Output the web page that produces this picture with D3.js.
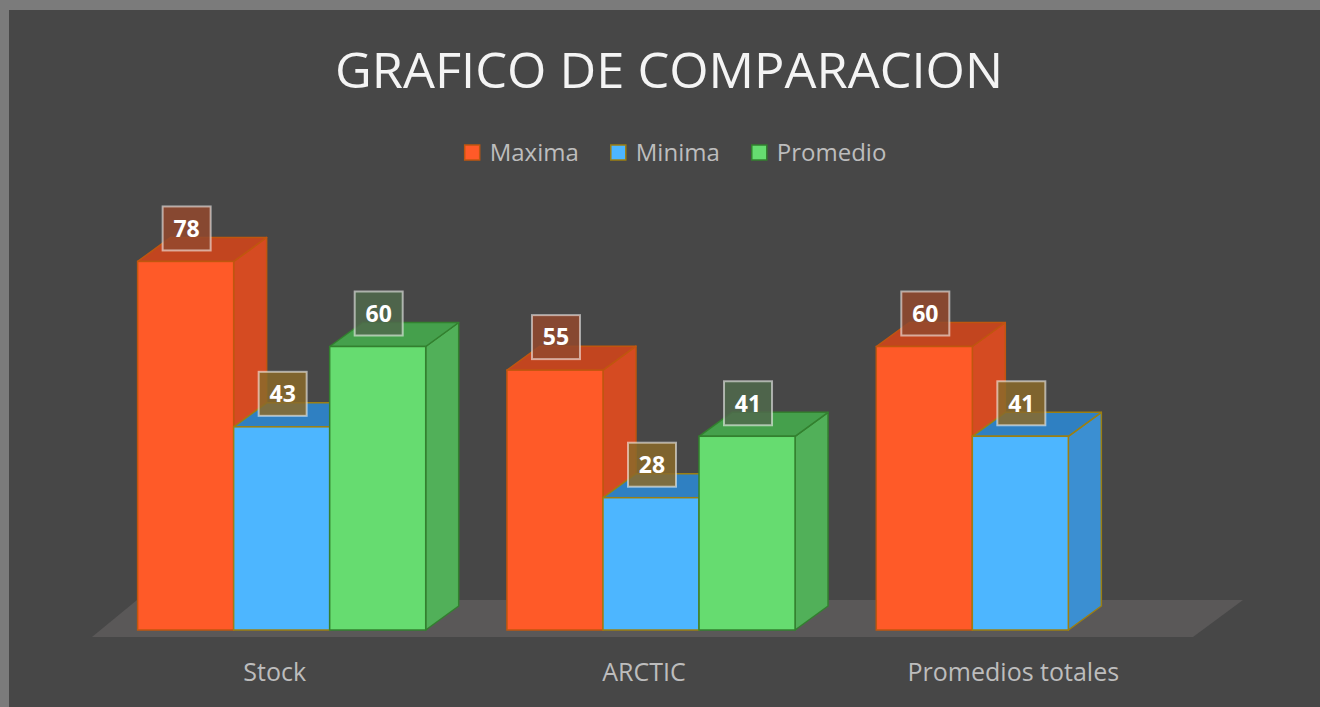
<!DOCTYPE html>
<html>
<head>
<meta charset="utf-8">
<script src="https://cdn.jsdelivr.net/npm/d3@7"></script>
<style>
  html, body { margin: 0; padding: 0; background: #7b7b7b; }
  svg { display: block; }
</style>
</head>
<body>
<svg id="chart"></svg>
<script>
const categories = ['Stock', 'ARCTIC', 'Promedios totales'];
const seriesNames = ['Maxima', 'Minima', 'Promedio'];
const maximaValues = [78, 55, 60];
const minimaValues = [43, 28, 41];
const promedioValues = [60, 41, null];
const yDomain = [0, 80];

const seriesValues = [maximaValues, minimaValues, promedioValues];

// face colours per series: front, side, top, outline, label box
const seriesStyle = [
  { front: '#ff5a28', side: '#d54b22', top: '#c2451f', line: '#c0560f', label: '#93492e' },
  { front: '#4db6ff', side: '#3b8fd2', top: '#2f80c2', line: '#9c7f12', label: '#8a6a2a' },
  { front: '#66dc70', side: '#51b059', top: '#45a04c', line: '#33802f', label: '#506a4c' }
];

const svgArea = { width: 1320, height: 707 };
const depth = { dx: 33, dy: 24 };

const svg = d3.select('#chart')
  .attr('width', svgArea.width)
  .attr('height', svgArea.height)
  .attr('viewBox', [0, 0, svgArea.width, svgArea.height]);

// outer frame + chart area
svg.append('rect')
  .attr('width', svgArea.width).attr('height', svgArea.height)
  .style('fill', '#7b7b7b');
svg.append('rect')
  .attr('x', 9).attr('y', 10)
  .attr('width', svgArea.width - 9).attr('height', svgArea.height - 10)
  .style('fill', '#474747');

const x0 = d3.scaleBand()
  .domain(categories)
  .range([97, 1205])
  .paddingInner(0.22)
  .paddingOuter(0.11);
const x1 = d3.scaleBand()
  .domain(seriesNames)
  .range([0, x0.bandwidth()]);
const y = d3.scaleLinear().domain(yDomain).range([630, 252]);

// floor
const fy0 = y(0);
const [rx0, rx1] = x0.range();
const floorPts = [
  [rx0 - 5, fy0 + 7],
  [rx0 + 40, fy0 - 30],
  [rx1 + 38, fy0 - 30],
  [rx1 - 12, fy0 + 7]
];
svg.append('path')
  .attr('d', d3.line()(floorPts) + 'Z')
  .style('fill', '#5a5858');

// title
svg.append('text')
  .attr('x', 669)
  .attr('y', 88)
  .style('text-anchor', 'middle')
  .style('font-family', '"Open Sans", sans-serif')
  .style('font-size', 50)
  .style('fill', '#f4f4f4')
  .attr('textLength', 668)
  .attr('lengthAdjust', 'spacingAndGlyphs')
  .text('GRAFICO DE COMPARACION');

// legend
const legend = svg.append('g').attr('class', 'legend');
const legendItems = legend.selectAll('g')
  .data(seriesNames)
  .enter().append('g');
legendItems.append('rect')
  .attr('width', 15).attr('height', 15)
  .attr('y', 145)
  .style('fill', (d, i) => seriesStyle[i].front)
  .style('stroke', (d, i) => seriesStyle[i].line)
  .style('stroke-width', 1.5);
legendItems.append('text')
  .attr('x', 25)
  .attr('y', 161)
  .style('font-family', '"Open Sans", sans-serif')
  .style('font-size', 24)
  .style('fill', '#bdbdbd')
  .text(d => d);
let lx = 0;
const legendGap = 32;
legendItems.each(function() {
  const w = this.getBBox().width;
  d3.select(this).attr('transform', `translate(${lx},0)`);
  lx += w + legendGap;
});
const legendW = lx - legendGap;
legend.attr('transform', `translate(${675.5 - legendW / 2},0)`);

// bars
const bars = [];
categories.forEach((c, ci) => {
  seriesNames.forEach((s, si) => {
    const v = seriesValues[si][ci];
    if (v === null || v === undefined) return;
    bars.push({ category: c, series: s, si, value: v });
  });
});

const barG = svg.append('g').attr('class', 'bars');
bars.forEach(d => {
  const st = seriesStyle[d.si];
  const xl = x0(d.category) + x1(d.series);
  const xr = xl + x1.bandwidth();
  const yt = y(d.value);
  const yb = y(0);
  const g = barG.append('g');
  // side face
  g.append('path')
    .attr('d', d3.line()([[xr, yt], [xr + depth.dx, yt - depth.dy], [xr + depth.dx, yb - depth.dy], [xr, yb]]) + 'Z')
    .style('fill', st.side)
    .style('stroke', st.line)
    .style('stroke-width', 1.5)
    .style('stroke-linejoin', 'round');
  // top face
  g.append('path')
    .attr('d', d3.line()([[xl, yt], [xl + depth.dx, yt - depth.dy], [xr + depth.dx, yt - depth.dy], [xr, yt]]) + 'Z')
    .style('fill', st.top)
    .style('stroke', st.line)
    .style('stroke-width', 1.5)
    .style('stroke-linejoin', 'round');
  // front face
  g.append('rect')
    .attr('x', xl)
    .attr('y', yt)
    .attr('width', xr - xl)
    .attr('height', yb - yt)
    .style('fill', st.front)
    .style('stroke', st.line)
    .style('stroke-width', 1.5);
});

// data labels
const labelG = svg.append('g').attr('class', 'labels');
bars.forEach(d => {
  const st = seriesStyle[d.si];
  const cx = x0(d.category) + x1(d.series) + x1.bandwidth() / 2 + 1;
  const cy = y(d.value) - 33;
  labelG.append('rect')
    .attr('x', cx - 24)
    .attr('y', cy - 22)
    .attr('width', 48)
    .attr('height', 44)
    .style('fill', st.label)
    .style('fill-opacity', 0.85)
    .style('stroke', '#ffffff')
    .style('stroke-opacity', 0.55)
    .style('stroke-width', 2);
  labelG.append('text')
    .attr('x', cx)
    .attr('y', cy)
    .attr('dy', '0.36em')
    .style('text-anchor', 'middle')
    .style('font-family', '"Open Sans", sans-serif')
    .style('font-weight', 'bold')
    .style('font-size', 23)
    .style('fill', '#ffffff')
    .text(d.value);
});

// category labels
svg.append('g')
  .selectAll('text')
  .data(categories)
  .enter().append('text')
  .attr('x', d => x0(d) + x0.bandwidth() / 2 - 7)
  .attr('y', 681)
  .style('text-anchor', 'middle')
  .style('font-family', '"Open Sans", sans-serif')
  .style('font-size', 25)
  .style('fill', '#bdbdbd')
  .text(d => d);
</script>
</body>
</html>
